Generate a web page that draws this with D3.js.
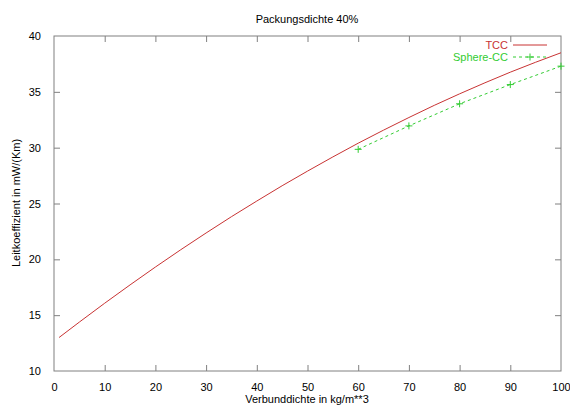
<!DOCTYPE html>
<html><head><meta charset="utf-8">
<script src="https://cdn.jsdelivr.net/npm/d3@7"></script>
<style>
html,body{margin:0;padding:0;background:#fff;}
text{font-family:"Liberation Sans",Arial,sans-serif;font-size:11px;fill:#000;}
</style></head>
<body>
<svg id="chart" width="570" height="408"></svg>
<script>
const tccX = [1,5,10,15,20,25,30,35,40,45,50,55,60,65,70,75,80,85,90,95,100];
const tccY = [13.0,14.38,16.07,17.71,19.31,20.86,22.36,23.82,25.22,26.59,27.9,29.17,30.4,31.57,32.7,33.79,34.82,35.81,36.76,37.65,38.5];
const sphereX = [60,70,80,90,100];
const sphereY = [29.85,31.95,33.93,35.65,37.3];
const xTicks = [0,10,20,30,40,50,60,70,80,90,100];
const yTicks = [10,15,20,25,30,35,40];
const seriesNames = ["TCC","Sphere-CC"];
const colors = {TCC:"#c83333", Sphere:"#33cc33"};

const svg = d3.select("#chart");
const L=54, R=561, T=36, B=371;
const x = d3.scaleLinear().domain([0,100]).range([L,R]);
const y = d3.scaleLinear().domain([10,40]).range([B,T]);
const frame="#808080";

svg.append("rect").attr("x",L).attr("y",T).attr("width",R-L).attr("height",B-T)
  .attr("fill","none").attr("stroke",frame).attr("stroke-width",1);

const tl=6;
const gx = svg.append("g").attr("transform",`translate(0,${B})`)
  .call(d3.axisBottom(x).tickValues(xTicks).tickSize(-tl).tickPadding(12));
const gxt = svg.append("g").attr("transform",`translate(0,${T})`)
  .call(d3.axisTop(x).tickValues(xTicks).tickSize(-tl).tickFormat(""));
const gy = svg.append("g").attr("transform",`translate(${L},0)`)
  .call(d3.axisLeft(y).tickValues(yTicks).tickSize(-tl).tickPadding(13));
const gyr = svg.append("g").attr("transform",`translate(${R},0)`)
  .call(d3.axisRight(y).tickValues(yTicks).tickSize(-tl).tickFormat(""));
[gx,gxt,gy,gyr].forEach(g=>{
  g.select(".domain").remove();
  g.selectAll(".tick line").attr("stroke",frame);
  g.selectAll("text").attr("font-size",11).attr("font-family","Liberation Sans, Arial, sans-serif").attr("fill","#000");
});
[gx,gxt].forEach(g=>g.selectAll(".tick").filter(d=>d===0||d===100).select("line").remove());
[gy,gyr].forEach(g=>g.selectAll(".tick").filter(d=>d===10||d===40).select("line").remove());

const line = d3.line().x(d=>x(d[0])).y(d=>y(d[1]));
const smooth = d3.line().x(d=>x(d[0])).y(d=>y(d[1])).curve(d3.curveMonotoneX);
svg.append("path").datum(tccX.map((v,i)=>[v,tccY[i]]))
  .attr("d",smooth).attr("fill","none").attr("stroke",colors.TCC).attr("stroke-width",1);

const sData = sphereX.map((v,i)=>[v,sphereY[i]]);
svg.append("path").datum(sData).attr("d",line).attr("fill","none")
  .attr("stroke",colors.Sphere).attr("stroke-width",1).attr("stroke-dasharray","3,3");
const plus = (g,cx,cy)=>{
  g.append("line").attr("x1",cx-3.5).attr("x2",cx+3.5).attr("y1",cy).attr("y2",cy).attr("stroke",colors.Sphere);
  g.append("line").attr("x1",cx).attr("x2",cx).attr("y1",cy-3.5).attr("y2",cy+3.5).attr("stroke",colors.Sphere);
};
const mg = svg.append("g");
sData.forEach(d=>plus(mg,x(d[0]),y(d[1])));

const lg = svg.append("g");
lg.append("text").attr("x",508).attr("y",45).attr("dy","0.35em").attr("text-anchor","end")
  .style("fill",colors.TCC).text(seriesNames[0]);
lg.append("line").attr("x1",513).attr("x2",547).attr("y1",45).attr("y2",45).attr("stroke",colors.TCC);
lg.append("text").attr("x",508).attr("y",57).attr("dy","0.35em").attr("text-anchor","end")
  .style("fill",colors.Sphere).text(seriesNames[1]);
lg.append("line").attr("x1",513).attr("x2",547).attr("y1",57).attr("y2",57).attr("stroke",colors.Sphere).attr("stroke-dasharray","3,3");
plus(lg,530,57);

svg.append("text").attr("x",307).attr("y",19).attr("dy","0.35em").attr("text-anchor","middle").text("Packungsdichte 40%");
svg.append("text").attr("x",307).attr("y",399).attr("dy","0.35em").attr("text-anchor","middle").text("Verbunddichte in kg/m**3");
svg.append("text").attr("transform","translate(16,203) rotate(-90)").attr("dy","0.35em").attr("text-anchor","middle").text("Leitkoeffizient in mW/(Km)");
</script>
</body></html>
